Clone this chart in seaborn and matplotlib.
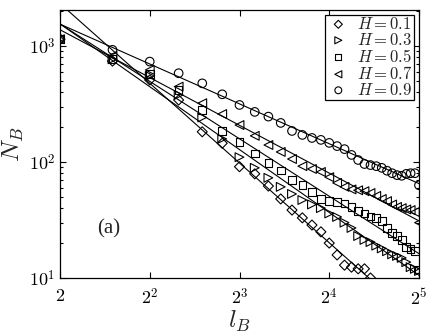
import numpy as np
import pandas as pd
import matplotlib
matplotlib.use("Agg")
import matplotlib.pyplot as plt
import seaborn as sns
from matplotlib.ticker import FixedLocator, NullFormatter, LogLocator, NullLocator

# ---- data ----
x_full = list(range(2, 33))
x_h01 = list(range(2, 23))

N_h01 = [1143, 740, 509, 342, 182, 145, 91, 79, 62, 48, 38.5, 33, 28.6, 25, 20,
         15.8, 12.9, 12.4, 12.0, 12.0, 10.0]
N_h03 = [1143, 767, 551, 378, 242, 158, 110, 89, 73, 61, 53, 47, 43, 40, 36,
         33.6, 30, 27, 23, 21.3, 20.4, 19, 18, 17, 16, 15.5, 14.9, 13.7, 12.4, 12.0, 11.5]
N_h05 = [1143, 767, 574, 418, 281, 185, 149, 118, 98, 84.5, 70, 63.4, 55, 48, 46,
         45, 44, 41, 37.9, 36, 34, 33, 31, 27, 24.5, 23, 21.3, 18.5, 17.8, 17, 11.8]
N_h07 = [1143, 820, 621, 446, 321, 259, 208, 168, 140, 122, 106, 92, 87, 82, 74,
         66, 61, 58, 57, 56, 54, 51, 48, 46, 43, 41, 40, 39, 38.5, 37, 30]
N_h09 = [1143, 925, 733, 582, 476, 383, 310, 270, 246, 217, 185, 171, 161, 155, 146,
         137, 129, 115, 104, 96, 94, 92, 89, 84, 80, 77, 76, 79, 80, 80, 63]

labels = ["$H=0.1$", "$H=0.3$", "$H=0.5$", "$H=0.7$", "$H=0.9$"]
xs = [x_h01, x_full, x_full, x_full, x_full]
ys = [N_h01, N_h03, N_h05, N_h07, N_h09]
markers = ["D", ">", "s", "<", "o"]
msizes = [26, 40, 30, 40, 38]

xticks = [2, 4, 8, 16, 32]
xticklabels = ["$2$", "$2^{2}$", "$2^{3}$", "$2^{4}$", "$2^{5}$"]
yticks = [10, 100, 1000]
yticklabels = ["$10^{1}$", "$10^{2}$", "$10^{3}$"]

# ---- style ----
sns.set_theme(style="ticks")
plt.rcParams["font.family"] = ["Liberation Serif", "DejaVu Serif"]
plt.rcParams["mathtext.fontset"] = "cm"

fig = plt.figure(figsize=(4.36, 3.34), dpi=100)
ax = fig.add_axes([60 / 436, 1 - 278 / 334, 359 / 436, 268 / 334])

xline = np.array([2.0, 32.0])
for xv, yv, m, s, lab in zip(xs, ys, markers, msizes, labels):
    df = pd.DataFrame({"l": xv, "N": yv})
    sns.scatterplot(data=df, x="l", y="N", marker=m, s=s, facecolors="none",
                    edgecolors="black", linewidths=0.8, ax=ax, label=lab, zorder=3)
    # power-law fit (excluding the first point)
    p = np.polyfit(np.log(np.array(xv[1:], float)), np.log(np.array(yv[1:], float)), 1)
    sns.lineplot(x=xline, y=np.exp(np.polyval(p, np.log(xline))), color="black",
                 lw=0.8, ax=ax, legend=False, zorder=2)

ax.set_xscale("log", base=2)
ax.set_yscale("log")
ax.set_xlim(2, 32)
ax.set_ylim(10, 2040)

ax.xaxis.set_major_locator(FixedLocator(xticks))
ax.set_xticklabels(xticklabels)
ax.xaxis.set_minor_locator(NullLocator())
ax.yaxis.set_major_locator(FixedLocator(yticks))
ax.set_yticklabels(yticklabels)
ax.yaxis.set_minor_locator(LogLocator(base=10, subs=np.arange(2, 10)))
ax.yaxis.set_minor_formatter(NullFormatter())

ax.tick_params(which="both", direction="in", top=True, right=True, width=0.8,
               labelsize=13, colors="black")
ax.tick_params(which="major", length=4)
ax.tick_params(which="minor", length=2)
ax.tick_params(axis="x", pad=7)
for sp in ax.spines.values():
    sp.set_color("black")
    sp.set_linewidth(0.9)

ax.set_xlabel("$l_B$", fontsize=18, labelpad=0)
ax.set_ylabel("$N_B$", fontsize=18, labelpad=2)

ax.text(0.103, 0.183, "(a)", transform=ax.transAxes, fontsize=15,
        va="center", ha="left")

leg = ax.legend(loc="upper right", fontsize=12, frameon=True, fancybox=False,
                edgecolor="black", framealpha=1, borderaxespad=0.3,
                handletextpad=0.4, labelspacing=0.0, borderpad=0.1,
                handlelength=1.4, markerscale=0.8)
leg.get_frame().set_linewidth(0.9)

fig.savefig("out.png", dpi=100)
